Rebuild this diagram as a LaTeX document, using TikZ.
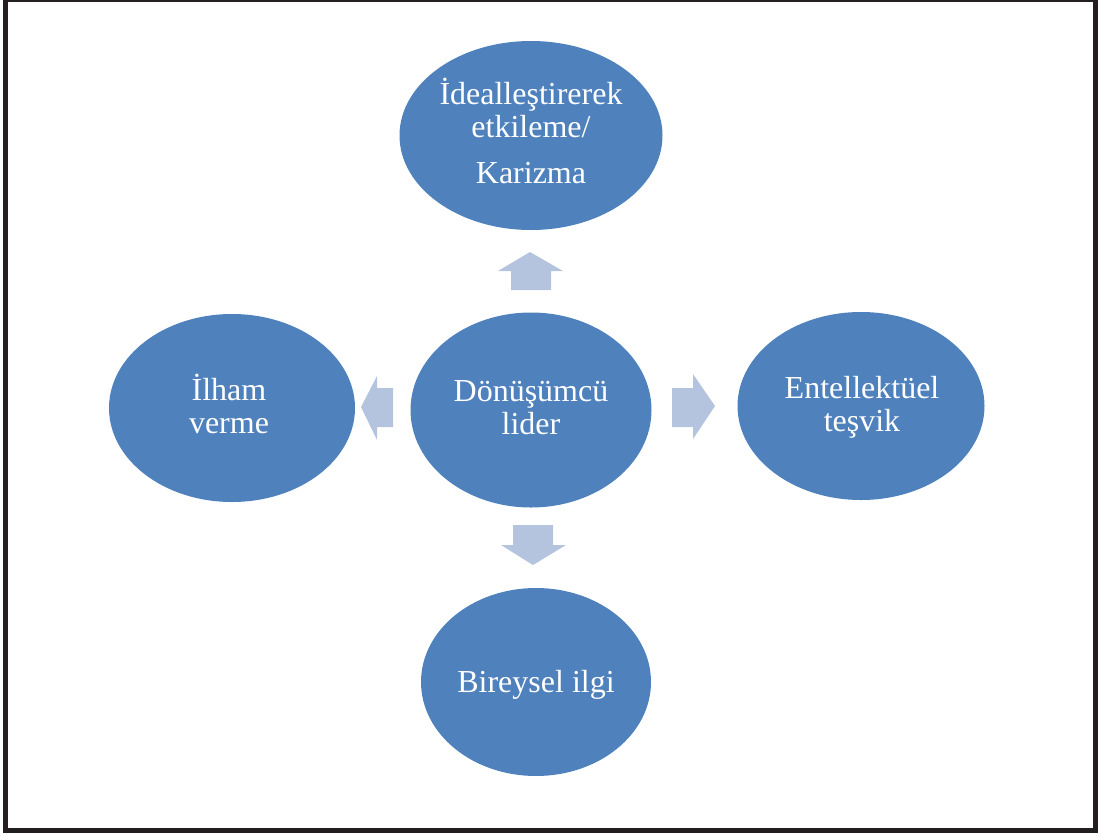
\documentclass[tikz,border=0pt]{standalone}
\usepackage{fontspec}
\setmainfont{Liberation Serif}
\usepackage{tikz}
\usetikzlibrary{shapes,positioning}
\definecolor{bubbleblue}{HTML}{4F81BD}
\definecolor{arrowblue}{HTML}{B4C4DE}
\definecolor{framegray}{HTML}{231F20}
\tikzset{
    bubble/.style = {ellipse, fill = bubbleblue, inner sep = 0pt},
    caption/.style = {anchor = base, text = white, align = center, inner sep = 0pt,
        font = \fontsize{32}{33}\selectfont},
    blockarrow/.style = {fill = arrowblue}
}

\begin{document}
\begin{tikzpicture}[x = 1pt, y = -1pt]
    \useasboundingbox (0,0) rectangle (1103,836);
    % frame
    \draw[framegray, line width = 2pt] (3,1) -- (1098,1);
    \draw[framegray, line width = 5pt] (5.5,0) -- (5.5,833);
    \draw[framegray, line width = 5pt] (1095.5,0) -- (1095.5,833);
    \draw[framegray, line width = 5pt] (3,830.5) -- (1098,830.5);

    \node[bubble, minimum width = 263, minimum height = 189] (ideal) at (531,135.5) {};
    \node[bubble, minimum width = 241, minimum height = 195] (lider) at (531,410) {};
    \node[bubble, minimum width = 246, minimum height = 188] (ilham) at (232,408) {};
    \node[bubble, minimum width = 247, minimum height = 188] (tesvik) at (861,406) {};
    \node[bubble, minimum width = 230, minimum height = 188] (ilgi) at (536,682) {};

    % captions sit on the baseline of their last line
    \node[caption] (idealtext) at (531,183) {İdealleştirerek\\etkileme/\\[13pt]Karizma};
    \node[caption] (lidertext) at (531,434) {Dönüşümcü\\lider};
    \node[caption] (ilhamtext) at (229,433) {İlham\\verme};
    \node[caption] (tesviktext) at (862,431) {Entellektüel\\teşvik};
    \node[caption] (ilgitext) at (536,692) {Bireysel ilgi};

    % arrows from the centre
    \fill[blockarrow] (511,290) -- (511,271) -- (498,271) -- (530,252) -- (563,271) -- (551,271) -- (551,290) -- cycle;
    \fill[blockarrow] (393,388) -- (377,388) -- (377,376) -- (361,407) -- (377,440) -- (377,427) -- (393,427) -- cycle;
    \fill[blockarrow] (672,388) -- (693,388) -- (693,374) -- (715,406) -- (693,439) -- (693,427) -- (672,427) -- cycle;
    \fill[blockarrow] (513,525) -- (553,525) -- (553,545) -- (566,545) -- (533,565) -- (501,545) -- (513,545) -- cycle;
\end{tikzpicture}
\end{document}
